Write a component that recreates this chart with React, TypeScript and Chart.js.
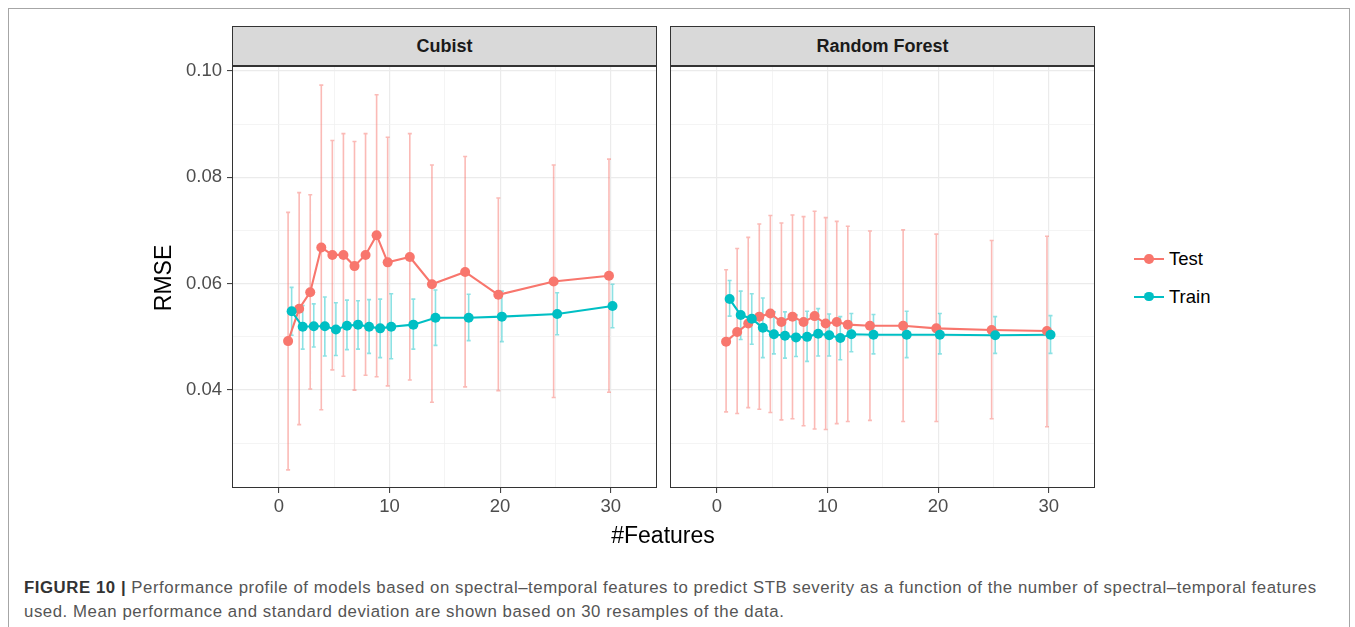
import React, { useEffect, useRef } from "react";
import { Chart, registerables } from "chart.js";

Chart.register(...registerables);

const FONT = "'Liberation Sans', Arial, Helvetica, sans-serif";

// ---- data ----
const SERIES = ["Test", "Train"];
const PANELS = ["Cubist", "Random Forest"];

const CUBIST_X = [1, 2, 3, 4, 5, 6, 7, 8, 9, 10, 12, 14, 17, 20, 25, 30];
const CUBIST_TEST = [0.0492, 0.0553, 0.0584, 0.0668, 0.0654, 0.0654, 0.0633, 0.0654, 0.0691, 0.064, 0.065, 0.0599, 0.0622, 0.0579, 0.0604, 0.0615];
const CUBIST_TEST_LO = [0.025, 0.0335, 0.0402, 0.0363, 0.0438, 0.0426, 0.04, 0.0428, 0.0425, 0.0408, 0.0419, 0.0377, 0.0406, 0.0399, 0.0386, 0.0396];
const CUBIST_TEST_HI = [0.0734, 0.0771, 0.0767, 0.0973, 0.0869, 0.0882, 0.0867, 0.0882, 0.0955, 0.0875, 0.0882, 0.0823, 0.0839, 0.0761, 0.0823, 0.0834];
const CUBIST_TRAIN = [0.0548, 0.0519, 0.052, 0.052, 0.0514, 0.0521, 0.0523, 0.0519, 0.0516, 0.0519, 0.0523, 0.0536, 0.0536, 0.0538, 0.0543, 0.0558];
const CUBIST_TRAIN_LO = [0.0503, 0.0477, 0.0481, 0.0464, 0.0465, 0.0476, 0.0477, 0.0469, 0.0461, 0.0459, 0.0477, 0.0484, 0.0493, 0.0491, 0.0504, 0.0517];
const CUBIST_TRAIN_HI = [0.0593, 0.0559, 0.0562, 0.0575, 0.0564, 0.0569, 0.0568, 0.057, 0.0571, 0.0581, 0.0571, 0.0588, 0.058, 0.0586, 0.0583, 0.0599];

const RF_X = [1, 2, 3, 4, 5, 6, 7, 8, 9, 10, 11, 12, 14, 17, 20, 25, 30];
const RF_TEST = [0.0491, 0.0509, 0.0525, 0.0538, 0.0544, 0.0528, 0.0538, 0.0528, 0.0539, 0.0525, 0.0528, 0.0523, 0.0521, 0.0521, 0.0516, 0.0513, 0.0511];
const RF_TEST_LO = [0.0359, 0.0356, 0.0367, 0.0364, 0.0358, 0.0344, 0.0346, 0.0333, 0.0327, 0.0326, 0.0337, 0.0341, 0.0343, 0.0341, 0.0341, 0.0346, 0.0331];
const RF_TEST_HI = [0.0626, 0.0666, 0.0687, 0.0712, 0.0728, 0.0714, 0.0729, 0.0726, 0.0736, 0.0724, 0.0717, 0.0708, 0.0699, 0.0701, 0.0693, 0.0681, 0.0689];
const RF_TRAIN = [0.0571, 0.0541, 0.0534, 0.0517, 0.0505, 0.0502, 0.0499, 0.05, 0.0506, 0.0503, 0.0498, 0.0505, 0.0504, 0.0504, 0.0504, 0.0503, 0.0504];
const RF_TRAIN_LO = [0.0539, 0.0495, 0.0486, 0.0461, 0.0468, 0.046, 0.0463, 0.0454, 0.0464, 0.0464, 0.0457, 0.0472, 0.0468, 0.0461, 0.0468, 0.0469, 0.0469];
const RF_TRAIN_HI = [0.0606, 0.0586, 0.0581, 0.0573, 0.0547, 0.0547, 0.0541, 0.0548, 0.0553, 0.0543, 0.0538, 0.0544, 0.0542, 0.0548, 0.0544, 0.0538, 0.054];

const Y_TICKS = [0.03, 0.04, 0.05, 0.06, 0.07, 0.08, 0.09, 0.1];
const Y_MAJOR = [0.04, 0.06, 0.08, 0.1];
const X_TICKS = [0, 5, 10, 15, 20, 25, 30];
const X_MAJOR = [0, 10, 20, 30];

const CAPTION_BOLD = "FIGURE 10 |";
const CAPTION_LINE1 = " Performance profile of models based on spectral–temporal features to predict STB severity as a function of the number of spectral–temporal features";
const CAPTION_LINE2 = "used. Mean performance and standard deviation are shown based on 30 resamples of the data.";

// ---- styles ----
const COLORS = ["#F8766D", "#00BFC4"];
const BAR_COLORS = ["rgba(248,118,109,0.5)", "rgba(0,191,196,0.45)"];
const DODGE = [-0.16, 0.16];
const CAP = 0.18;
const Y_RANGE = [0.0216, 0.1009];
const X_RANGE = [-4.23, 34.18];
const TICK_FONT = 18.5;

const isMajorY = (v: number) => Y_MAJOR.some((m) => Math.abs(m - v) < 1e-6);
const isMajorX = (v: number) => X_MAJOR.some((m) => Math.abs(m - v) < 1e-6);

function errorSegments(xs: number[], lo: number[], hi: number[], off: number) {
  const pts: { x: number; y: number | null }[] = [];
  xs.forEach((f, i) => {
    const x = f + off;
    pts.push({ x, y: lo[i] }, { x, y: hi[i] }, { x, y: null });
    pts.push({ x: x - CAP, y: hi[i] }, { x: x + CAP, y: hi[i] }, { x, y: null });
    pts.push({ x: x - CAP, y: lo[i] }, { x: x + CAP, y: lo[i] }, { x, y: null });
  });
  return pts;
}

function buildDatasets(
  xs: number[],
  means: number[][],
  los: number[][],
  his: number[][]
) {
  const ds: any[] = [];
  SERIES.forEach((name, s) => {
    ds.push({
      label: name + " sd",
      data: errorSegments(xs, los[s], his[s], DODGE[s]),
      borderColor: BAR_COLORS[s],
      borderWidth: 1.6,
      pointRadius: 0,
      spanGaps: false,
      order: 60 - s * 10,
    });
  });
  SERIES.forEach((name, s) => {
    ds.push({
      label: name + " line",
      data: xs.map((f, i) => ({ x: f + DODGE[s], y: means[s][i] })),
      borderColor: COLORS[s],
      borderWidth: 2.1,
      pointRadius: 0,
      order: 40 - s * 10,
    });
  });
  SERIES.forEach((name, s) => {
    ds.push({
      label: name,
      data: xs.map((f, i) => ({ x: f + DODGE[s], y: means[s][i] })),
      showLine: false,
      pointRadius: 5,
      pointBorderWidth: 0,
      pointBackgroundColor: COLORS[s],
      borderColor: COLORS[s],
      order: 20 - s * 10,
    });
  });
  return ds;
}

const panelBorder = {
  id: "panelBorder",
  afterDraw(chart: any) {
    const { ctx, chartArea } = chart;
    const { left, top, right, bottom } = chartArea;
    ctx.save();
    ctx.strokeStyle = "#333333";
    ctx.lineWidth = 1;
    ctx.strokeRect(Math.round(left) + 0.5, Math.round(top) + 0.5, Math.round(right - left) - 1, Math.round(bottom - top) - 1);
    ctx.restore();
  },
};

type PanelProps = {
  left: number;
  top: number;
  width: number;
  height: number;
  padding: { left: number; right: number; top: number; bottom: number };
  showY: boolean;
  xs: number[];
  means: number[][];
  los: number[][];
  his: number[][];
};

function Panel(p: PanelProps) {
  const ref = useRef<HTMLCanvasElement>(null);
  useEffect(() => {
    if (!ref.current) return;
    const chart = new Chart(ref.current, {
      type: "line",
      data: { datasets: buildDatasets(p.xs, p.means, p.los, p.his) },
      options: {
        animation: false,
        responsive: false,
        events: [],
        layout: { padding: p.padding },
        plugins: { legend: { display: false }, tooltip: { enabled: false } },
        scales: {
          x: {
            type: "linear",
            min: X_RANGE[0],
            max: X_RANGE[1],
            afterBuildTicks: (s: any) => {
              s.ticks = X_TICKS.map((v) => ({ value: v }));
            },
            afterFit: (s: any) => {
              s.height = 30;
            },
            border: { display: false },
            grid: {
              color: (c: any) => (isMajorX(c.tick.value) ? "#ebebeb" : "#f1f1f1"),
              lineWidth: (c: any) => (isMajorX(c.tick.value) ? 1.2 : 0.8),
              tickColor: (c: any) => (isMajorX(c.tick.value) ? "#333333" : "rgba(0,0,0,0)"),
              tickLength: 5,
              tickWidth: 1,
            },
            ticks: {
              autoSkip: false,
              maxRotation: 0,
              padding: 3,
              color: "#4d4d4d",
              font: { family: FONT, size: TICK_FONT },
              callback: (v: any) => (isMajorX(Number(v)) ? String(v) : ""),
            },
          },
          y: {
            type: "linear",
            min: Y_RANGE[0],
            max: Y_RANGE[1],
            afterBuildTicks: (s: any) => {
              s.ticks = Y_TICKS.map((v) => ({ value: v }));
            },
            afterFit: (s: any) => {
              s.width = p.showY ? 82 : 0;
            },
            border: { display: false },
            grid: {
              color: (c: any) => (isMajorY(c.tick.value) ? "#ebebeb" : "#f1f1f1"),
              lineWidth: (c: any) => (isMajorY(c.tick.value) ? 1.2 : 0.8),
              tickColor: (c: any) => (isMajorY(c.tick.value) ? "#333333" : "rgba(0,0,0,0)"),
              drawTicks: p.showY,
              tickLength: 5,
              tickWidth: 1,
            },
            ticks: {
              display: p.showY,
              autoSkip: false,
              padding: 5,
              color: "#4d4d4d",
              font: { family: FONT, size: TICK_FONT },
              callback: (v: any) => (isMajorY(Number(v)) ? Number(v).toFixed(2) : ""),
            },
          },
        },
      },
      plugins: [panelBorder],
    });
    return () => chart.destroy();
  }, []);
  return (
    <canvas
      ref={ref}
      width={p.width}
      height={p.height}
      style={{ position: "absolute", left: p.left, top: p.top, width: p.width, height: p.height }}
    />
  );
}

const stripStyle = (left: number, width: number): React.CSSProperties => ({
  position: "absolute",
  left,
  top: 26,
  width,
  height: 40,
  boxSizing: "border-box",
  border: "1px solid #333333",
  background: "#d9d9d9",
  color: "#1a1a1a",
  fontFamily: FONT,
  fontWeight: "bold",
  fontSize: 18,
  lineHeight: "38px",
  textAlign: "center",
});

function LegendKey({ top, color, label }: { top: number; color: string; label: string }) {
  return (
    <>
      <div style={{ position: "absolute", left: 1134, top: top - 1, width: 30, height: 2, background: color }} />
      <div
        style={{
          position: "absolute",
          left: 1149 - 4.8,
          top: top - 4.8,
          width: 9.6,
          height: 9.6,
          borderRadius: "50%",
          background: color,
        }}
      />
      <div
        style={{
          position: "absolute",
          left: 1169,
          top: top - 12,
          height: 24,
          lineHeight: "24px",
          fontFamily: FONT,
          fontSize: 18.5,
          color: "#000",
          whiteSpace: "nowrap",
        }}
      >
        {label}
      </div>
    </>
  );
}

const captionStyle = (top: number): React.CSSProperties => ({
  position: "absolute",
  left: 24,
  top,
  lineHeight: "24px",
  fontFamily: FONT,
  fontSize: 16.8,
  letterSpacing: "0.55px",
  color: "#555",
  whiteSpace: "nowrap",
});

export default function App() {
  return (
    <div style={{ position: "absolute", left: 0, top: 0, width: 1355, height: 627, overflow: "hidden", background: "#fff" }}>
      <div
        style={{
          position: "absolute",
          left: 8,
          top: 8,
          width: 1342,
          height: 700,
          boxSizing: "border-box",
          border: "1px solid #a6a6a6",
        }}
      />
      <Panel
        left={120}
        top={20}
        width={560}
        height={510}
        padding={{ left: 30, right: 23, top: 46, bottom: 12 }}
        showY={true}
        xs={CUBIST_X}
        means={[CUBIST_TEST, CUBIST_TRAIN]}
        los={[CUBIST_TEST_LO, CUBIST_TRAIN_LO]}
        his={[CUBIST_TEST_HI, CUBIST_TRAIN_HI]}
      />
      <Panel
        left={640}
        top={20}
        width={480}
        height={510}
        padding={{ left: 30, right: 25, top: 46, bottom: 12 }}
        showY={false}
        xs={RF_X}
        means={[RF_TEST, RF_TRAIN]}
        los={[RF_TEST_LO, RF_TRAIN_LO]}
        his={[RF_TEST_HI, RF_TRAIN_HI]}
      />
      <div style={stripStyle(232, 425)}>{PANELS[0]}</div>
      <div style={stripStyle(670, 425)}>{PANELS[1]}</div>

      <div
        style={{
          position: "absolute",
          left: 163 - 60,
          top: 278 - 15,
          width: 120,
          height: 30,
          lineHeight: "30px",
          textAlign: "center",
          transform: "rotate(-90deg)",
          fontFamily: FONT,
          fontSize: 23,
          color: "#000",
        }}
      >
        RMSE
      </div>
      <div
        style={{
          position: "absolute",
          left: 663 - 100,
          top: 535 - 15,
          width: 200,
          height: 30,
          lineHeight: "30px",
          textAlign: "center",
          fontFamily: FONT,
          fontSize: 23,
          color: "#000",
        }}
      >
        #Features
      </div>

      <LegendKey top={259} color={COLORS[0]} label={SERIES[0]} />
      <LegendKey top={296.5} color={COLORS[1]} label={SERIES[1]} />

      <div style={captionStyle(576)}>
        <span style={{ fontWeight: "bold", color: "#333" }}>{CAPTION_BOLD}</span>
        {CAPTION_LINE1}
      </div>
      <div style={captionStyle(600)}>{CAPTION_LINE2}</div>
    </div>
  );
}
